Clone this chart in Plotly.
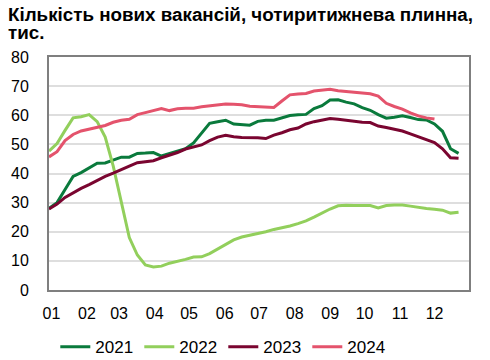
import plotly.graph_objects as go

# Week index within the year (0 = first week of January)
weeks = list(range(52))

# Month tick labels, placed at the first day of each month (day of year)
month_labels = ["01", "02", "03", "04", "05", "06", "07", "08", "09", "10", "11", "12"]
month_start_days = [0, 31, 59, 90, 120, 151, 181, 212, 243, 273, 304, 334]

y2021 = [28.0, 30.0, 34.5, 39.0, 40.3, 41.8, 43.5, 43.6, 44.5, 45.6, 45.6, 46.9,
         47.0, 47.2, 46.0, 46.8, 47.6, 48.5, 50.5, 54.0, 57.2, 57.8, 58.3, 57.0,
         56.7, 56.6, 57.9, 58.3, 58.3, 59.2, 59.9, 60.2, 60.3, 62.3, 63.3, 65.2,
         65.3, 64.5, 63.9, 62.6, 61.7, 60.2, 59.0, 59.3, 59.8, 59.2, 58.5, 58.4,
         57.0, 54.5, 48.5, 46.9]

y2022 = [47.7, 50.3, 54.8, 59.1, 59.5, 60.2, 57.8, 52.5, 42.5, 30.0, 18.0, 12.0,
         8.6, 7.9, 8.2, 9.2, 9.8, 10.5, 11.3, 11.4, 12.5, 14.0, 15.5, 17.2,
         18.2, 18.8, 19.3, 20.0, 20.8, 21.3, 22.0, 22.8, 23.7, 25.0, 26.4, 27.8,
         28.9, 29.1, 29.0, 29.0, 29.0, 28.2, 29.0, 29.2, 29.2, 28.8, 28.3, 28.0,
         27.7, 27.4, 26.4, 26.7]

y2023 = [27.8, 29.5, 31.8, 33.5, 34.9, 36.2, 37.6, 39.0, 40.1, 41.2, 42.5, 43.7,
         44.0, 44.4, 45.4, 46.2, 47.2, 48.4, 49.2, 49.8, 51.3, 52.5, 53.1, 52.6,
         52.4, 52.4, 52.3, 52.0, 53.2, 54.0, 55.0, 55.6, 57.0, 57.8, 58.4, 58.9,
         58.6, 58.2, 58.0, 57.6, 57.5, 56.3, 55.8, 55.2, 54.6, 53.6, 52.6, 51.7,
         50.6, 48.5, 45.4, 45.2]

y2024 = [45.7, 47.5, 51.3, 53.4, 54.6, 55.3, 55.9, 56.5, 57.6, 58.3, 58.6, 60.2,
         60.9, 61.6, 62.3, 61.6, 62.2, 62.4, 62.4, 62.9, 63.2, 63.5, 63.9, 63.8,
         63.6, 63.1, 62.9, 62.7, 62.7, 64.9, 67.0, 67.3, 67.5, 68.3, 68.6, 68.9,
         68.4, 68.1, 68.0, 67.7, 67.4, 66.6, 64.1, 63.0, 62.1, 60.8, 59.8, 59.1,
         58.7]

series = [
    ("2021", y2021, "#0a7a3c"),
    ("2022", y2022, "#92cf5c"),
    ("2023", y2023, "#7a0530"),
    ("2024", y2024, "#e4536c"),
]

FONT = "Liberation Sans, Arial, sans-serif"

fig = go.Figure()
for name, vals, color in series:
    fig.add_trace(go.Scatter(
        x=weeks[:len(vals)], y=vals, mode="lines", name=name,
        line=dict(color=color, width=3), hoverinfo="skip",
    ))

tickvals = [d / 7 + 0.3 for d in month_start_days]

fig.update_layout(
    width=490, height=360,
    margin=dict(l=49, r=21, t=57, b=70, autoexpand=False),
    paper_bgcolor="white", plot_bgcolor="white",
    font=dict(family=FONT, size=16, color="black"),
    showlegend=True,
    legend=dict(
        orientation="h", x=0.015, xanchor="left", y=-0.245, yanchor="middle",
        font=dict(size=17, color="black"),
        entrywidth=39, entrywidthmode="pixels",
        bgcolor="rgba(0,0,0,0)", borderwidth=0,
    ),
    xaxis=dict(
        range=[0, 52.3], tickvals=tickvals, ticktext=month_labels,
        showgrid=False, zeroline=False,
        showline=True, linecolor="#7f7f7f", linewidth=2, mirror=True,
        ticks="", ticklabelstandoff=8,
        tickfont=dict(size=16, color="black"),
    ),
    yaxis=dict(
        range=[0, 80], dtick=10, tick0=0,
        showgrid=True, gridcolor="#dedede", gridwidth=2,
        zeroline=False,
        showline=True, linecolor="#7f7f7f", linewidth=2, mirror=True,
        ticks="", ticklabelstandoff=15,
        tickfont=dict(size=16, color="black"),
    ),
)

fig.add_annotation(
    text="<b>Кількість нових вакансій, чотиритижнева плинна,</b>",
    xref="paper", yref="paper", x=-0.1, y=(290 - 2.5) / 233,
    xanchor="left", yanchor="top", showarrow=False, borderpad=0,
    font=dict(family=FONT, size=18.8, color="black"),
)
fig.add_annotation(
    text="<b>тис.</b>",
    xref="paper", yref="paper", x=-0.1, y=(290 - 28) / 233,
    xanchor="left", yanchor="top", showarrow=False, borderpad=0,
    height=14, valign="bottom",
    font=dict(family=FONT, size=18.8, color="black"),
)

fig.write_html(
    "out.html",
    config={"displayModeBar": False},
    post_script="document.body.style.margin='0';document.body.style.padding='0';",
)
